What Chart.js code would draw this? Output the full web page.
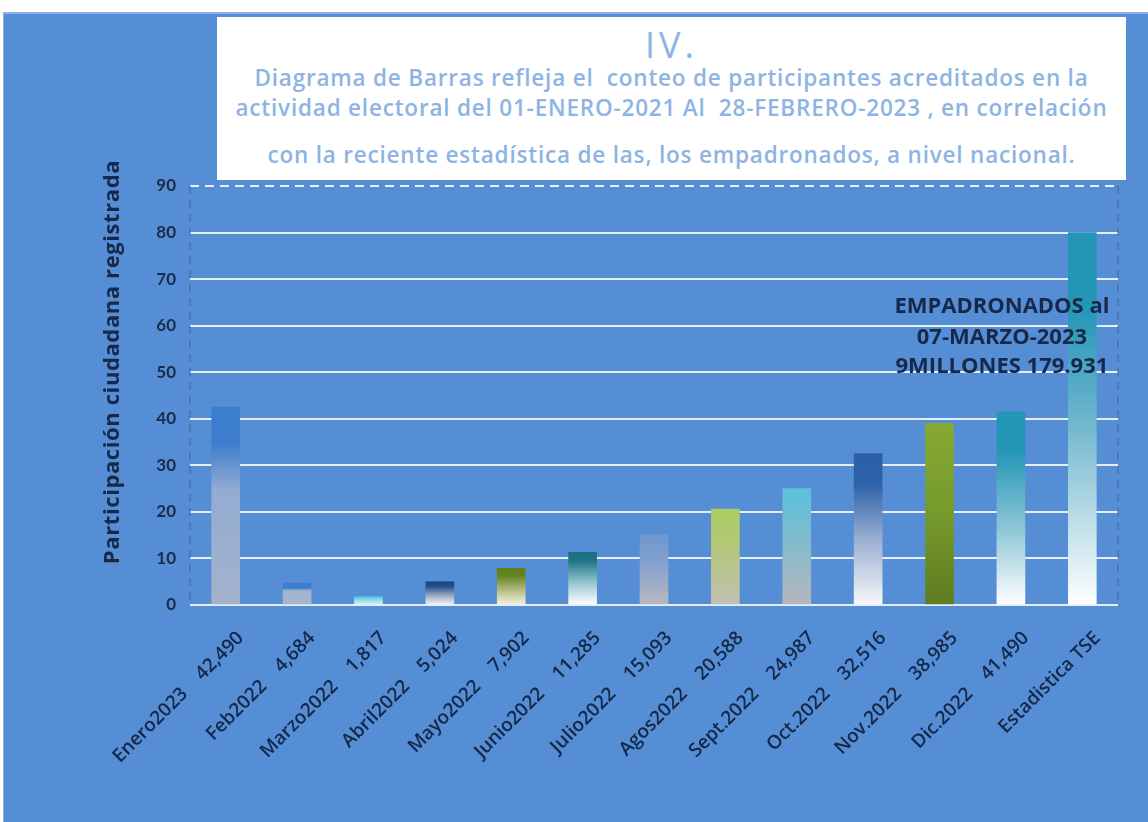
<!DOCTYPE html>
<html>
<head>
<meta charset="utf-8">
<script src="https://cdn.jsdelivr.net/npm/chart.js@4/dist/chart.umd.min.js"></script>
<style>
  html, body { margin: 0; padding: 0; background: #fff; }
  body { width: 1148px; height: 822px; position: relative; overflow: hidden; }
  #panel { position: absolute; left: 3px; top: 12px; right: 0; bottom: 0; background: #558ed5; border-top: 2px solid #8db1e2; border-left: 1px solid #8db1e2; }
  #titleBox { position: absolute; left: 217px; top: 17px; width: 909px; height: 163px; background: #fff; color: #8db4e2; font-family: "Open Sans", sans-serif; text-align: center; }
  #titleBox div { position: absolute; left: 0; right: 0; white-space: pre; }
  .num { font-size: 36px; line-height: 40px; top: 8px; letter-spacing: 4px; }
  .ln { font-size: 22.5px; font-weight: 600; line-height: 30px; letter-spacing: 0.8px; }
  #chart { position: absolute; left: 0; top: 0; }
</style>
</head>
<body>
<div id="panel"></div>
<div id="titleBox">
  <div class="num">IV.</div>
  <div class="ln" style="top:46px">Diagrama de Barras refleja el  conteo de participantes acreditados en la</div>
  <div class="ln" style="top:76px">actividad electoral del 01-ENERO-2021 Al  28-FEBRERO-2023 , en correlación</div>
  <div class="ln" style="top:123px">con la reciente estadística de las, los empadronados, a nivel nacional.</div>
</div>
<canvas id="chart" width="1148" height="822"></canvas>
<script>
// datos
const months = ['Enero2023', 'Feb2022', 'Marzo2022', 'Abril2022', 'Mayo2022', 'Junio2022', 'Julio2022',
                'Agos2022', 'Sept.2022', 'Oct.2022', 'Nov.2022', 'Dic.2022', 'Estadistica TSE'];
const counts = ['42,490', '4,684', '1,817', '5,024', '7,902', '11,285', '15,093',
                '20,588', '24,987', '32,516', '38,985', '41,490', ''];
const values = [42.5, 4.7, 1.8, 5.0, 7.9, 11.3, 15.1, 20.6, 25.0, 32.5, 39.0, 41.5, 80];
const yMin = 0, yMax = 90, yStep = 10;
const yTitle = 'Participación ciudadana registrada';
const noteLines = ['EMPADRONADOS al', '07-MARZO-2023', '9MILLONES 179.931'];

// degradados de cada barra (arriba -> abajo)
const barStops = [
  [[0, '#3c7dcd'], [0.18, '#3c7dcd'], [0.42, '#93acd2'], [1, '#a3b2cc']],
  [[0, '#3c7dcd'], [0.22, '#3c7dcd'], [0.35, '#9fb3d0'], [1, '#a9b6cc']],
  [[0, '#45c5e0'], [0.3, '#7fd6e8'], [1, '#e6f3f8']],
  [[0, '#1b477f'], [0.2, '#22508a'], [0.6, '#9eaac4'], [1, '#f5f5f8']],
  [[0, '#5f7f1f'], [0.2, '#63831f'], [0.65, '#bcc58e'], [1, '#f3f3e4']],
  [[0, '#1b6f80'], [0.15, '#1d7383'], [0.6, '#9ccbd2'], [1, '#ffffff']],
  [[0, '#6e98d0'], [0.35, '#7f9fcf'], [1, '#bab8be']],
  [[0, '#aacd62'], [0.35, '#b3c874'], [1, '#c1c0b6']],
  [[0, '#5cc1dd'], [0.35, '#78bcd0'], [1, '#b6b6bd']],
  [[0, '#2a60a8'], [0.2, '#2c62a9'], [0.55, '#96acd0'], [1, '#f8f8fa']],
  [[0, '#86a934'], [0.5, '#769a2b'], [1, '#5e7c22']],
  [[0, '#2396b6'], [0.2, '#2396b6'], [0.6, '#8cc5d6'], [1, '#ffffff']],
  [[0, '#2396b6'], [0.2, '#2396b6'], [0.5, '#6db5cc'], [1, '#ffffff']]
];

const labels = months.map((m, i) => counts[i] ? m + '\u00a0\u00a0\u00a0\u00a0' + counts[i] : m);

function barFill(c) {
  const chart = c.chart;
  if (!chart.chartArea || c.type !== 'data') return '#3c7dcd';
  const y = chart.scales.y;
  const top = y.getPixelForValue(c.parsed.y);
  const base = y.getPixelForValue(0);
  const g = chart.ctx.createLinearGradient(0, top, 0, base);
  barStops[c.dataIndex].forEach(s => g.addColorStop(s[0], s[1]));
  return g;
}

const extras = {
  id: 'extras',
  beforeDatasetsDraw(chart) {
    const { ctx, chartArea: a, scales: { y } } = chart;
    ctx.save();
    ctx.lineWidth = 2;
    // linea punteada superior
    ctx.strokeStyle = 'rgba(255,255,255,0.85)';
    ctx.setLineDash([9, 6]);
    const yt = y.getPixelForValue(yMax);
    ctx.beginPath(); ctx.moveTo(a.left, yt); ctx.lineTo(a.right, yt); ctx.stroke();
    // bordes izquierdo y derecho punteados
    ctx.strokeStyle = 'rgba(60,95,150,0.45)';
    ctx.setLineDash([8, 6]);
    ctx.beginPath();
    ctx.moveTo(a.left, a.top); ctx.lineTo(a.left, a.bottom);
    ctx.moveTo(a.right, a.top); ctx.lineTo(a.right, a.bottom);
    ctx.stroke();
    ctx.restore();
  },
  afterDraw(chart) {
    const { ctx, scales: { x, y } } = chart;
    ctx.save();
    ctx.fillStyle = '#17294a';
    // titulo eje y
    ctx.font = 'bold 22px "Open Sans"';
    ctx.letterSpacing = '0.6px';
    ctx.textAlign = 'center';
    ctx.textBaseline = 'middle';
    ctx.translate(113, 362);
    ctx.rotate(-Math.PI / 2);
    ctx.fillText(yTitle, 0, 0);
    ctx.setTransform(1, 0, 0, 1, 0, 0);
    // nota empadronados
    ctx.font = 'bold 22px "Open Sans"';
    ctx.letterSpacing = '0px';
    const nx = x.getPixelForValue(11) - 9;
    [64, 57.5, 51.2].forEach((v, i) => ctx.fillText(noteLines[i], nx, y.getPixelForValue(v)));
    ctx.restore();
  }
};

new Chart(document.getElementById('chart'), {
  type: 'bar',
  data: {
    labels: labels,
    datasets: [{
      data: values,
      backgroundColor: barFill,
      borderWidth: 0,
      barThickness: 28
    }]
  },
  options: {
    responsive: false,
    animation: false,
    layout: { padding: { left: 90, right: 30, top: 186, bottom: 0 } },
    plugins: { legend: { display: false }, tooltip: { enabled: false } },
    scales: {
      x: {
        grid: { display: false, drawTicks: false },
        border: { display: false },
        ticks: {
          autoSkip: false, minRotation: 45, maxRotation: 45,
          color: '#14284a', font: { family: 'Open Sans', weight: '600', size: 19 },
          padding: 22, labelOffset: 15
        },
        afterFit(s) { s.height = 217; }
      },
      y: {
        min: yMin, max: yMax,
        grid: {
          drawTicks: false, lineWidth: 2,
          color: c => c.tick && c.tick.value === yMax ? 'rgba(0,0,0,0)' : 'rgba(255,255,255,0.85)'
        },
        border: { display: false },
        ticks: {
          stepSize: yStep, padding: 14,
          color: '#1b2b4a', font: { family: 'Lato', weight: 'bold', size: 17 }
        },
        afterFit(s) { s.width = 100; }
      }
    }
  },
  plugins: [extras]
});
</script>
</body>
</html>
